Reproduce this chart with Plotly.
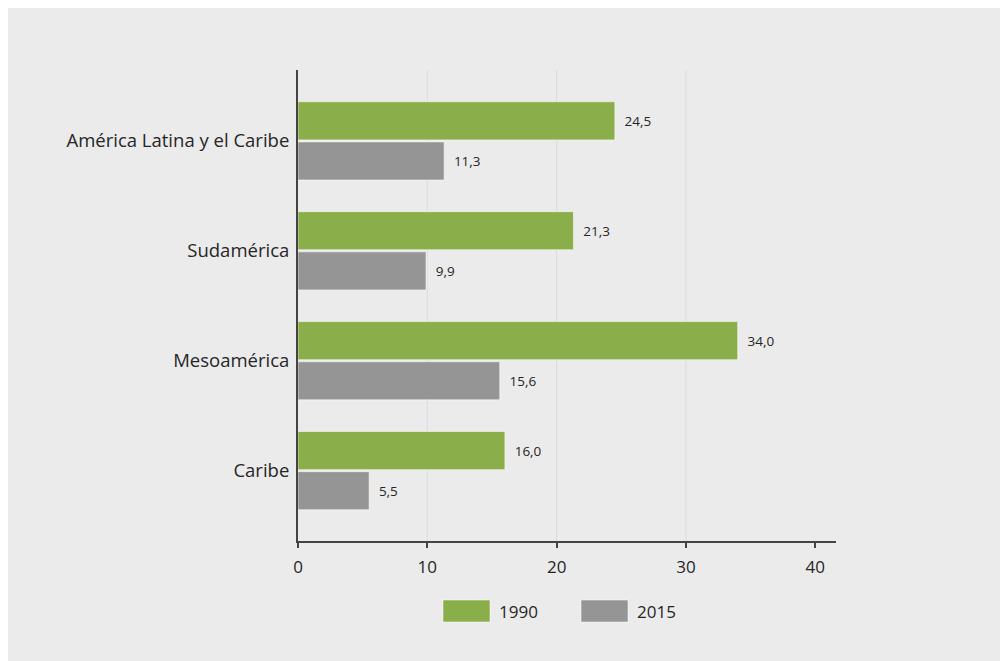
import plotly.graph_objects as go

categories = ["América Latina y el Caribe", "Sudamérica", "Mesoamérica", "Caribe"]
values_1990 = [24.5, 21.3, 34.0, 16.0]
values_2015 = [11.3, 9.9, 15.6, 5.5]
x_ticks = [0, 10, 20, 30, 40]
grid_vals = [10, 20, 30]
series_names = ["1990", "2015"]

GREEN = "#8aae4a"
GRAY = "#959595"
TXT = "#262626"
FONT = "'Open Sans', sans-serif"

fig = go.Figure()
for name, vals, col in [(series_names[0], values_1990, GREEN), (series_names[1], values_2015, GRAY)]:
    fig.add_trace(go.Bar(
        y=categories, x=vals, name=name, orientation="h",
        marker=dict(color=col, line=dict(color="rgba(255,255,255,0.55)", width=1)),
        texttemplate="\u2002%{x:.1f}", textposition="outside",
        textfont=dict(size=13.5, color=TXT, family=FONT),
        cliponaxis=False, showlegend=False,
    ))

# plot area in viewport px: x 298..836, y 70..541
shapes = []
for g in grid_vals:
    shapes.append(dict(type="line", xref="x", yref="paper", x0=g, x1=g, y0=0, y1=1,
                       line=dict(color="#d6dee2", width=1), layer="below"))

ly0 = (541 - 622) / 471
ly1 = (541 - 600) / 471
annotations = []
for name, col, px0 in [(series_names[0], GREEN, 443), (series_names[1], GRAY, 581)]:
    shapes.append(dict(type="rect", xref="paper", yref="paper",
                       x0=(px0 - 298) / 538, x1=(px0 + 47 - 298) / 538,
                       y0=ly0, y1=ly1, fillcolor=col,
                       line=dict(color="rgba(255,255,255,0.5)", width=1)))
    annotations.append(dict(xref="paper", yref="paper", x=(px0 + 54 - 298) / 538,
                            y=(ly0 + ly1) / 2, text=name, showarrow=False,
                            xanchor="left", yanchor="middle",
                            font=dict(size=17, color=TXT, family=FONT)))

fig.update_layout(
    width=1008, height=661,
    margin=dict(l=290, r=180, t=62, b=128),
    paper_bgcolor="#ebebeb", plot_bgcolor="#ebebeb",
    barmode="group", bargap=0.27, bargroupgap=0.05,
    separators=",.",
    font=dict(family=FONT, color=TXT),
    shapes=shapes, annotations=annotations,
    xaxis=dict(range=[0, 41.6], tickvals=x_ticks, showgrid=False, zeroline=False,
               showline=True, linecolor="#444444", linewidth=2,
               ticks="outside", ticklen=5, tickcolor="#444444", tickwidth=2,
               ticklabelstandoff=5,
               tickfont=dict(size=17, color=TXT, family=FONT)),
    yaxis=dict(categoryorder="array", categoryarray=categories,
               range=[3.64, -0.645], showgrid=False, zeroline=False,
               showline=True, linecolor="#444444", linewidth=2, ticks="",
               ticklabelstandoff=3,
               tickfont=dict(size=18.5, color=TXT, family=FONT)),
)

fig.write_html("out.html")
